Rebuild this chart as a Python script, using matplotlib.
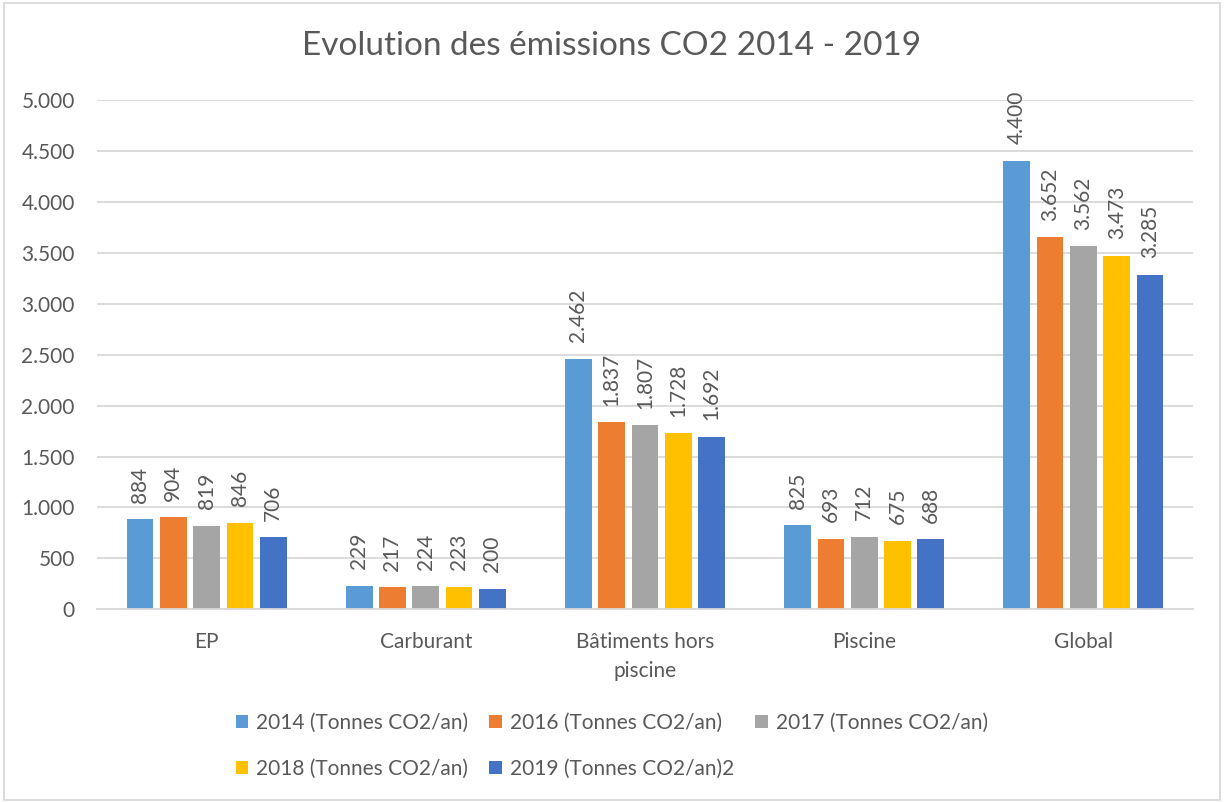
#!/usr/bin/env python

########################### import the packages ############################

import numpy as np
import matplotlib
matplotlib.use("Agg")
import matplotlib.pyplot as plt
from matplotlib.patches import Rectangle
from matplotlib.ticker import FuncFormatter

########################### DATA ############################

categories = ["EP", "Carburant", "Bâtiments hors\npiscine", "Piscine", "Global"]
series_labels = [
    "2014 (Tonnes CO2/an)",
    "2016 (Tonnes CO2/an)",
    "2017 (Tonnes CO2/an)",
    "2018 (Tonnes CO2/an)",
    "2019 (Tonnes CO2/an)2",
]
values_2014 = [884, 229, 2462, 825, 4400]
values_2016 = [904, 217, 1837, 693, 3652]
values_2017 = [819, 224, 1807, 712, 3562]
values_2018 = [846, 223, 1728, 675, 3473]
values_2019 = [706, 200, 1692, 688, 3285]
series_values = [values_2014, values_2016, values_2017, values_2018, values_2019]
y_ticks = [0, 500, 1000, 1500, 2000, 2500, 3000, 3500, 4000, 4500, 5000]

########################### Plot settings ############################

plot_size = (12.24, 8.02)
resolution_value = 100
graphic_font = ["Lato", "DejaVu Sans"]
text_color = "#595959"
grid_color = "#d9d9d9"
colors = ["#5B9BD5", "#ED7D31", "#A5A5A5", "#FFC000", "#4472C4"]
bar_width = 0.122
bar_step = 0.152
title_fontsize = 24
tick_labelsize = 15
value_fontsize = 15
legend_fontsize = 15
plt.rcParams["font.family"] = graphic_font

########################### FUNCTIONS ############################

def fr_thousands(v, pos=None):
    return f"{int(round(v)):,}".replace(",", ".")

########################### PLOT ############################

fig = plt.figure(figsize=plot_size, dpi=resolution_value)
ax = fig.add_axes([97 / 1224, 1 - 609.3 / 802, 1096 / 1224, 509.3 / 802])

x = np.arange(len(categories))
offsets = (np.arange(len(series_values)) - 2) * bar_step

bars = []
for i, vals in enumerate(series_values):
    b = ax.bar(x + offsets[i], vals, width=bar_width, color=colors[i],
               label=series_labels[i], zorder=3)
    ax.bar_label(b, labels=[fr_thousands(v) for v in vals], rotation=90,
                 padding=12, fontsize=value_fontsize, color=text_color)
    bars.append(b)

ax.set_xlim(-0.5, len(categories) - 0.5)
ax.set_ylim(0, 5000)
ax.set_yticks(y_ticks)
ax.yaxis.set_major_formatter(FuncFormatter(fr_thousands))
ax.set_xticks(x)
ax.set_xticklabels(categories, linespacing=1.6)

ax.grid(axis="y", color=grid_color, linewidth=1.3, zorder=0)
for side in ["top", "right", "left"]:
    ax.spines[side].set_visible(False)
ax.spines["bottom"].set_color(grid_color)
ax.spines["bottom"].set_linewidth(1.3)
ax.spines["bottom"].set_zorder(4)

ax.tick_params(axis="both", length=0, labelsize=tick_labelsize, labelcolor=text_color)
ax.tick_params(axis="x", pad=16)
ax.tick_params(axis="y", pad=16)

fig.text(0.5, 1 - 46 / 802, "Evolution des émissions CO2 2014 - 2019",
         ha="center", va="center", fontsize=title_fontsize, color=text_color)

# legend rows: 2014 / 2016 / 2017 then 2018 / 2019 (column-major fill)
order = [0, 3, 1, 4, 2]
leg = fig.legend([bars[i] for i in order], [series_labels[i] for i in order],
                 ncol=3, loc="center", bbox_to_anchor=(0.5, 1 - 746 / 802),
                 frameon=False, fontsize=legend_fontsize, labelcolor=text_color,
                 handlelength=0.6, handleheight=0.6, handletextpad=0.4,
                 columnspacing=1.0, labelspacing=1.25)

# light frame around the whole chart
fig.patches.append(Rectangle((4 / 1224, 2 / 802), 1216 / 1224, 797 / 802,
                             transform=fig.transFigure, fill=False,
                             edgecolor="#d9d9d9", linewidth=1.3))

fig.savefig("out.png", dpi=resolution_value)
